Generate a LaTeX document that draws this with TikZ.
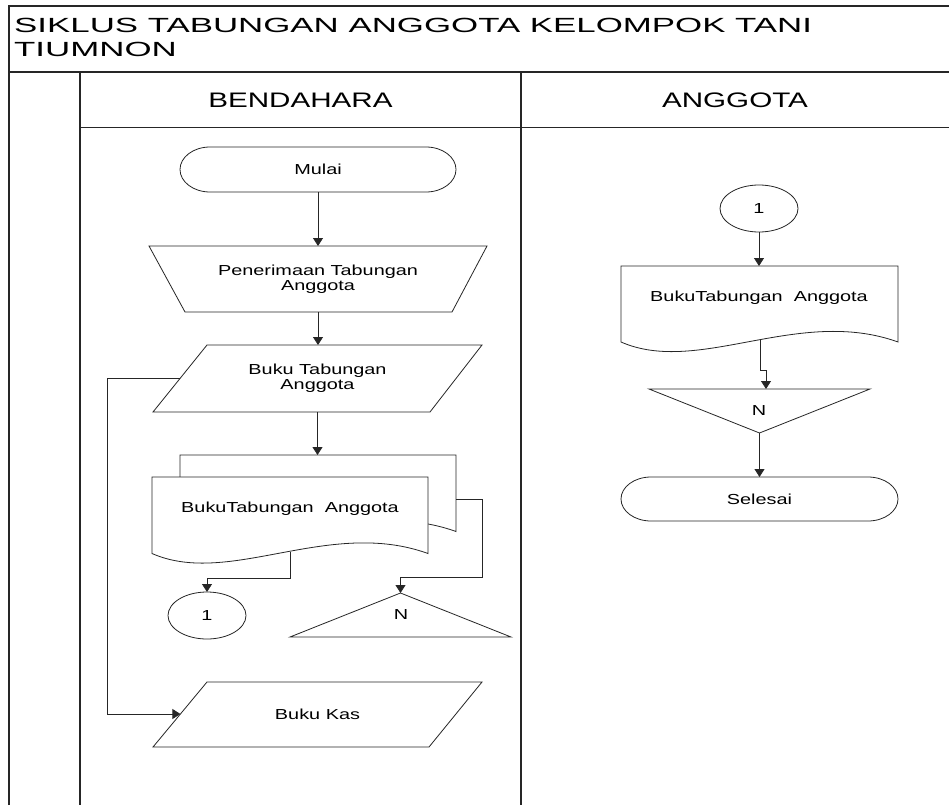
\documentclass[tikz,border=0pt]{standalone}
\usepackage{fontspec}
\setmainfont{Liberation Sans}
\newfontfamily\titlefont[FakeStretch=1.7]{Liberation Sans}
\newfontfamily\headfont[FakeStretch=1.41]{Liberation Sans}
\newfontfamily\bodyfont[FakeStretch=1.37]{Liberation Sans}
\usetikzlibrary{arrows.meta,shapes.geometric}
\begin{document}
\begin{tikzpicture}[x=1pt,y=-1pt,
  frame/.style={line width=1.1pt, draw=black!85},
  shp/.style={draw=black!85, line width=0.8pt, fill=white},
  box/.style={draw=none, inner sep=0, outer sep=0, align=center,
    font=\bodyfont\fontsize{14.5}{15}\selectfont},
  conn/.style={draw=black!85, line width=0.8pt, fill=white, ellipse,
    minimum width=78pt, minimum height=47pt, inner sep=0, outer sep=0,
    font=\bodyfont\fontsize{14.5}{15}\selectfont},
  arr/.style={draw=black!85, line width=0.8pt, -{Triangle[width=10pt,length=8pt]}},
  ln/.style={draw=black!85, line width=0.8pt},
  head/.style={inner sep=0, font=\headfont\fontsize{21}{24}\selectfont},
]
\useasboundingbox (0,0) rectangle (949,805);
\fill[white] (0,0) rectangle (949,805);

% frame
\draw[frame] (9,805) -- (9,6) -- (949,6);
\draw[frame] (9,72) -- (949,72);
\draw[frame] (80,72) -- (80,805);
\draw[frame] (521,72) -- (521,805);
\draw[frame] (80,127.5) -- (949,127.5);

\node[anchor=north west, inner sep=0, align=left,
  font=\titlefont\fontsize{20.5}{24}\selectfont] (title) at (14,18)
  {SIKLUS TABUNGAN ANGGOTA KELOMPOK TANI\\TIUMNON};
\node[head] (hb) at (300.5,100) {BENDAHARA};
\node[head] (ha) at (735,100) {ANGGOTA};

% ---------- BENDAHARA lane ----------
% Mulai
\draw[shp] (210,147) -- (426,147)
  arc[start angle=-90,end angle=90,x radius=30,y radius=22.5]
  -- (210,192) arc[start angle=90,end angle=270,x radius=30,y radius=22.5] -- cycle;
\node[box, minimum width=276pt, minimum height=45pt] (mulai) at (318,169.5) {Mulai};

% Penerimaan (manual operation)
\draw[shp] (149,246) -- (487,246) -- (452,312) -- (185,312) -- cycle;
\node[box, minimum width=338pt, minimum height=66pt] (pen) at (318,279)
  {Penerimaan Tabungan\\Anggota};

% Buku Tabungan Anggota (parallelogram)
\draw[shp] (207,345) -- (482,345) -- (430,412) -- (153,412) -- cycle;
\node[box, minimum width=329pt, minimum height=67pt] (bta) at (317.5,378.5)
  {Buku Tabungan\\Anggota};
\coordinate (btaL) at (180.4,378);

% multi-document
\draw[shp] (180,455) -- (456,455) -- (456,531.5)
  .. controls (356.6,495.5) and (257.3,565.5) .. (180,531.5) -- cycle;
\node[box, minimum width=276pt, minimum height=77pt] (doc0) at (318,493.5) {};
\coordinate (d0out) at (456,499);
\draw[shp] (152,477) -- (428,477) -- (428,553.5)
  .. controls (328.6,517.5) and (229.3,587.5) .. (152,553.5) -- cycle;
\node[box] (doc1) at (290,509) {BukuTabungan~~Anggota};
\coordinate (d1out) at (290,551.5);

% connector 1 and N
\node[conn] (c1) at (207,615.5) {1};
\draw[shp] (400.5,593) -- (511,637) -- (290,637) -- cycle;
\node[box, minimum width=221pt, minimum height=44pt] (n1) at (400.5,615) {};
\node[box] at (401,615) {N};

% Buku Kas
\draw[shp] (207,682) -- (482,682) -- (429,747) -- (153,747) -- cycle;
\node[box, minimum width=329pt, minimum height=65pt] (kas) at (317.5,714.5) {Buku Kas};
\coordinate (kasL) at (180.4,714);

% connectors
\draw[arr] (mulai.south) -- (pen.north);
\draw[arr] (pen.south) -- (pen.south |- bta.north);
\draw[arr] (bta.south) -- (bta.south |- doc0.north);
\draw[arr] (d1out) -- (290,578) -| (c1.north);
\draw[arr] (d0out) -- (482,499) -- (482,577) -| (n1.north);
\draw[arr] (btaL) -- (107,378) -- (107,714) -- (kasL);

% ---------- ANGGOTA lane ----------
\node[conn] (c2) at (759,208.5) {1};
\draw[shp] (621,266) -- (898,266) -- (898,342)
  .. controls (798.3,306) and (698.6,376) .. (621,342) -- cycle;
\node[box] (doc2) at (759,298) {BukuTabungan~~Anggota};
\coordinate (d2out) at (760,340);
\node[box, minimum width=277pt, minimum height=76pt] (doc2box) at (759.5,304) {};

\draw[shp] (649,389) -- (870,389) -- (759.5,433) -- cycle;
\node[box, minimum width=221pt, minimum height=44pt] (n2) at (759.5,411) {};
\node[box] at (759,411) {N};

\draw[shp] (651,477) -- (868,477)
  arc[start angle=-90,end angle=90,x radius=30,y radius=22]
  -- (651,521) arc[start angle=90,end angle=270,x radius=30,y radius=22] -- cycle;
\node[box, minimum width=277pt, minimum height=44pt] (sel) at (759.5,499) {Selesai};

\draw[arr] (c2.south) -- (c2.south |- doc2box.north);
\draw[arr] (d2out) -- (760,370) -- (766,370) -- ([xshift=6.5pt]n2.north);
\draw[arr] (n2.south) -- (sel.north);
\end{tikzpicture}
\end{document}
